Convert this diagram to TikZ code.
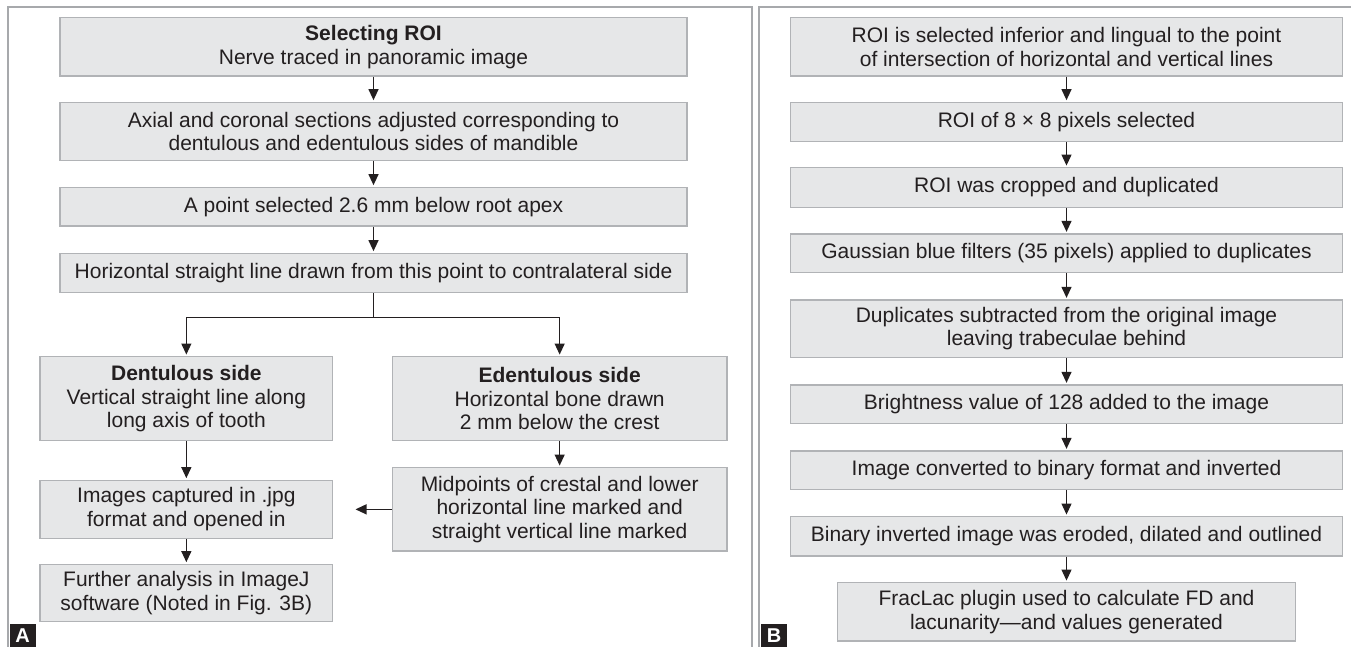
\documentclass[tikz,border=0pt]{standalone}
\usepackage{fontspec}
\setmainfont{Liberation Sans}
\usetikzlibrary{arrows.meta}
\definecolor{boxfill}{HTML}{E6E7E8}
\definecolor{boxline}{HTML}{B1B3B6}
\definecolor{frameline}{HTML}{A7A9AC}
\definecolor{ink}{HTML}{231F20}

\begin{document}
\begin{tikzpicture}[x=1pt, y=-1pt,
  caixa/.style={draw=boxline, fill=boxfill, line width=1.3pt, text=ink, align=center,
    inner sep=0pt, font=\fontsize{21}{23.5}\selectfont},
  seta/.style={draw=ink, line width=1.2pt, -{Triangle[length=11pt,width=10pt]}, shorten >=1.5pt},
  linha/.style={draw=ink, line width=1.2pt},
  moldura/.style={draw=frameline, line width=1.8pt},
  rotulo/.style={fill=ink, text=white, font=\fontsize{20}{20}\selectfont\bfseries,
    inner sep=0pt, minimum width=26.4pt, minimum height=24pt, anchor=south west}]
  \useasboundingbox (0,0) rectangle (1351,647);
  % Molduras
  \draw[moldura] (8.3,660) -- (8.3,7.3) -- (752.3,7.3) -- (752.3,660);
  \draw[moldura] (759.3,660) -- (759.3,7.3) -- (1360,7.3);
  \node[rotulo] (labA) at (9.3,648) {A};
  \node[rotulo] (labB) at (760.7,648) {B};

  % Painel A
  \node[caixa, minimum width=627pt, minimum height=58.3pt] (sel) at (373.5,46.85)
    {\textbf{Selecting ROI}\\Nerve traced in panoramic image};
  \node[caixa, minimum width=627pt, minimum height=58pt] (axial) at (373.5,131.3)
    {Axial and coronal sections adjusted corresponding to\\dentulous and edentulous sides of mandible};
  \node[caixa, minimum width=627pt, minimum height=38.7pt] (apoint) at (373.5,206.65)
    {A point selected 2.6 mm below root apex};
  \node[caixa, minimum width=627pt, minimum height=39.4pt] (horiz) at (373.5,273)
    {Horizontal straight line drawn from this point to contralateral side};
  \node[caixa, minimum width=292.7pt, minimum height=84pt] (dent) at (186.35,398.7)
    {\textbf{Dentulous side}\\Vertical straight line along\\long axis of tooth};
  \node[caixa, minimum width=334.7pt, minimum height=84pt] (edent) at (559.65,398.7)
    {\textbf{Edentulous side}\\Horizontal bone drawn\\2 mm below the crest};
  \node[caixa, minimum width=334.7pt, minimum height=83.3pt] (mid) at (559.65,509.35)
    {Midpoints of crestal and lower\\horizontal line marked and\\straight vertical line marked};
  \node[caixa, minimum width=292.7pt, minimum height=58pt] (images) at (186.35,509.3)
    {Images captured in .jpg\\format and opened in};
  \node[caixa, minimum width=292.7pt, minimum height=57.4pt] (further) at (186.35,593)
    {Further analysis in ImageJ\\software (Noted in Fig. 3B)};
  \coordinate (split) at (373.5,317.7);
  \coordinate (tip) at (354,509.35);
  % Setas painel A
  \draw[seta] (sel) -- (axial);
  \draw[seta] (axial) -- (apoint);
  \draw[seta] (apoint) -- (horiz);
  \draw[linha] (horiz.south) -- (split);
  \draw[seta] (split) -| (dent.north);
  \draw[seta] (split) -| (edent.north);
  \draw[seta] (dent) -- (images);
  \draw[seta] (edent) -- (mid);
  \draw[seta] (mid.west) -- (tip);
  \draw[seta] (images) -- (further);

  % Painel B
  \foreach \nome/\y/\h/\texto in {
      r1/46.85/58.3/{ROI is selected inferior and lingual to the point\\of intersection of horizontal and vertical lines},
      r2/122/39.4/{ROI of 8 × 8 pixels selected},
      r3/187.5/39.6/{ROI was cropped and duplicated},
      r4/253.35/38.7/{Gaussian blue filters (35 pixels) applied to duplicates},
      r5/328.65/57.3/{Duplicates subtracted from the original image\\leaving trabeculae behind},
      r6/404.15/38.3/{Brightness value of 128 added to the image},
      r7/470.15/38.3/{Image converted to binary format and inverted},
      r8/536.35/39.3/{Binary inverted image was eroded, dilated and outlined}}
    \node[caixa, minimum width=552.5pt, minimum height=\h pt] (\nome) at (1066.5,\y) {\texto};
  \node[caixa, minimum width=458pt, minimum height=58.3pt] (r9) at (1066.5,611.85)
    {FracLac plugin used to calculate FD and\\lacunarity—and values generated};
  % Setas painel B
  \foreach \a/\b in {r1/r2, r2/r3, r3/r4, r4/r5, r5/r6, r6/r7, r7/r8, r8/r9}
    \draw[seta] (\a.south) -- (\b.north);
\end{tikzpicture}
\end{document}
